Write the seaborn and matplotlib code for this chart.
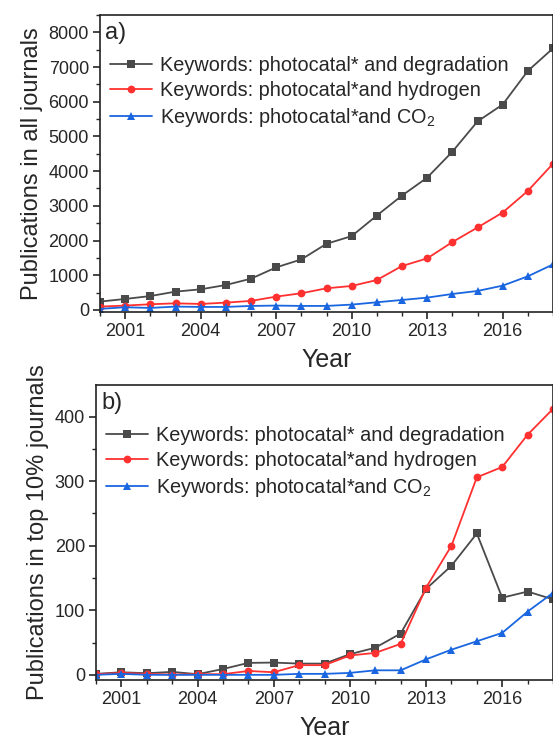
import pandas as pd
import numpy as np
import seaborn as sns
import matplotlib.pyplot as plt
from matplotlib.ticker import MultipleLocator

# Data
years = list(range(2000, 2019))

all_degradation = [240, 316, 400, 527, 594, 718, 900, 1226, 1456, 1906, 2127,
                   2720, 3296, 3813, 4560, 5432, 5920, 6888, 7540]
all_hydrogen = [96, 125, 163, 190, 172, 210, 260, 383, 480, 623, 690,
                862, 1265, 1485, 1954, 2376, 2807, 3430, 4215]
all_co2 = [30, 77, 57, 96, 86, 86, 115, 125, 115, 115, 153,
           220, 287, 354, 460, 546, 700, 968, 1312]

top_degradation = [1.5, 4, 2.5, 4.6, 1, 9, 18.5, 19, 17.4, 17.4, 32,
                   42, 64, 133, 169, 219, 119.5, 129, 117]
top_hydrogen = [1, 3, 1.5, 0.5, 1, 1, 6, 4, 15, 15, 30,
                34, 48, 135, 200, 306, 322, 372, 412]
top_co2 = [0, 1.5, 0, 0, 0, 0, 0, 0, 1.5, 1.5, 3,
           7, 7, 24, 39, 52, 65, 98, 127]

labels = ['Keywords: photocatal* and degradation',
          'Keywords: photocatal*and hydrogen',
          'Keywords: photocatal*and CO$_\\mathregular{2}$']
colors = ['#4a4a4a', '#ff3030', '#1a66e0']
markers = ['s', 'o', '^']

sns.set_style('ticks')
plt.rcParams['font.family'] = ['Liberation Sans', 'DejaVu Sans']
plt.rcParams['mathtext.fontset'] = 'custom'
plt.rcParams['mathtext.rm'] = 'Liberation Sans'
plt.rcParams['mathtext.it'] = 'Liberation Sans:italic'


def make_df(series):
    rows = []
    for lab, vals in zip(labels, series):
        for y, v in zip(years, vals):
            rows.append({'Year': y, 'value': v, 'series': lab})
    return pd.DataFrame(rows)


fig = plt.figure(figsize=(5.53, 7.4), dpi=100)
ax1 = fig.add_axes([100 / 553, 1 - 312 / 740, 453 / 553, 297 / 740])
ax2 = fig.add_axes([96 / 553, 1 - 680 / 740, 457 / 553, 295 / 740])

panels = [
    (ax1, [all_degradation, all_hydrogen, all_co2], 'Publications in all journals',
     (-60, 8500), 1000, 500, 'a)'),
    (ax2, [top_degradation, top_hydrogen, top_co2], 'Publications in top 10% journals',
     (-8, 449), 100, 50, 'b)'),
]

for ax, series, ylab, ylim, major, minor, tag in panels:
    df = make_df(series)
    sns.lineplot(data=df, x='Year', y='value', hue='series', style='series',
                 palette=dict(zip(labels, colors)),
                 markers=dict(zip(labels, markers)), dashes=False,
                 markersize=5.6, markeredgewidth=0, linewidth=1.3, ax=ax)
    handles, labs = ax.get_legend_handles_labels()
    ax.legend(handles, labs, loc='upper left', bbox_to_anchor=(0.0, 0.895),
              frameon=False, fontsize=14.3, handlelength=2.1, handletextpad=0.4,
              labelspacing=0.3, borderaxespad=0.1)
    ax.set_xlim(2000, 2018)
    ax.set_ylim(*ylim)
    ax.xaxis.set_major_locator(MultipleLocator(3, offset=0))
    ax.xaxis.set_minor_locator(MultipleLocator(1))
    ax.yaxis.set_major_locator(MultipleLocator(major))
    ax.yaxis.set_minor_locator(MultipleLocator(minor))
    ax.tick_params(which='major', direction='out', length=5, width=1.2,
                   labelsize=13, pad=3)
    ax.tick_params(which='minor', direction='out', length=3, width=1)
    for sp in ax.spines.values():
        sp.set_linewidth(1.2)
        sp.set_color('#222222')
    ax.set_xlabel('Year', fontsize=18, labelpad=6)
    ax.set_ylabel(ylab, fontsize=17, labelpad=4)
    ax.text(0.012, 0.975, tag, transform=ax.transAxes, fontsize=17,
            ha='left', va='top')

fig.savefig('out.png', dpi=100)
